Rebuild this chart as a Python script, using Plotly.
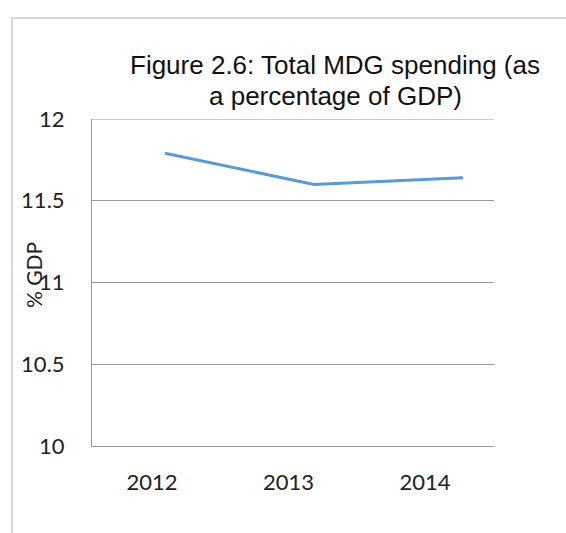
import plotly.graph_objects as go

# Total MDG spending as a share of GDP
years = [2012, 2013, 2014]
spending_pct_gdp = [11.79, 11.60, 11.64]
year_labels = ["2012", "2013", "2014"]
y_ticks = [10, 10.5, 11, 11.5, 12]
y_tick_labels = ["10", "10.5", "11", "11.5", "12"]

title_line1 = "Figure 2.6: Total MDG spending (as"
title_line2 = "a percentage of GDP)"
y_title = "% GDP"

W, H = 566, 533
L, R, T, B = 92, 72, 119, 87
plot_w = W - L - R
plot_h = H - T - B
GRID = "#9a9a9a"


def px_x(px):
    return (px - L) / plot_w


def px_y(py):
    return (H - B - py) / plot_h


fig = go.Figure()
fig.add_trace(go.Scatter(
    x=years, y=spending_pct_gdp, mode="lines",
    line=dict(color="#5B9BD5", width=3),
    hoverinfo="x+y", showlegend=False,
))
# invisible trace carrying the category labels on the second x axis
fig.add_trace(go.Scatter(
    x=years, y=spending_pct_gdp, xaxis="x2", mode="markers",
    marker=dict(opacity=0), hoverinfo="skip", showlegend=False,
))

tick_font = dict(family="Lato, Open Sans, sans-serif", size=22, color="#222222")
title_font = dict(family="Liberation Sans, Arial, sans-serif", size=26, color="#111111")

fig.update_layout(
    width=W, height=H,
    margin=dict(l=L, r=R, t=T, b=B),
    paper_bgcolor="white", plot_bgcolor="white",
    xaxis=dict(
        range=[2011.51, 2014.208], showticklabels=False, showgrid=False,
        zeroline=False, showline=False, ticks="",
    ),
    xaxis2=dict(
        overlaying="x", side="bottom",
        range=[2011.56, 2014.505], tickmode="array",
        tickvals=years, ticktext=year_labels, tickfont=tick_font,
        showgrid=False, zeroline=False,
        showline=True, linecolor=GRID, linewidth=1,
        ticks="", ticklabelstandoff=17,
    ),
    yaxis=dict(
        range=[10, 12], tickmode="array", tickvals=y_ticks,
        ticktext=y_tick_labels, tickfont=tick_font,
        showgrid=True, gridcolor=GRID, gridwidth=1,
        zeroline=False, showline=True, linecolor=GRID, linewidth=1,
        ticks="", ticklabelstandoff=22,
    ),
    annotations=[
        dict(text=title_line1, xref="paper", yref="paper",
             x=px_x(334.5), y=px_y(65), showarrow=False,
             xanchor="center", yanchor="middle", font=title_font),
        dict(text=title_line2, xref="paper", yref="paper",
             x=px_x(335), y=px_y(96), showarrow=False,
             xanchor="center", yanchor="middle", font=title_font),
        dict(text=y_title, xref="paper", yref="paper",
             x=px_x(33), y=px_y(275), showarrow=False, textangle=-90,
             xanchor="center", yanchor="middle",
             font=dict(family="Lato, Open Sans, sans-serif", size=21, color="#222222")),
    ],
    shapes=[
        # chart frame
        dict(type="rect", xref="paper", yref="paper",
             x0=px_x(12), x1=px_x(600), y0=px_y(560), y1=px_y(18),
             line=dict(color="#d9d9d9", width=2), fillcolor="rgba(0,0,0,0)",
             layer="below"),
        # gridline at the top of the value range
        dict(type="line", xref="paper", yref="y",
             x0=0, x1=1, y0=y_ticks[-1], y1=y_ticks[-1],
             line=dict(color=GRID, width=1), layer="below"),
    ],
)

fig.write_html("out.html")
